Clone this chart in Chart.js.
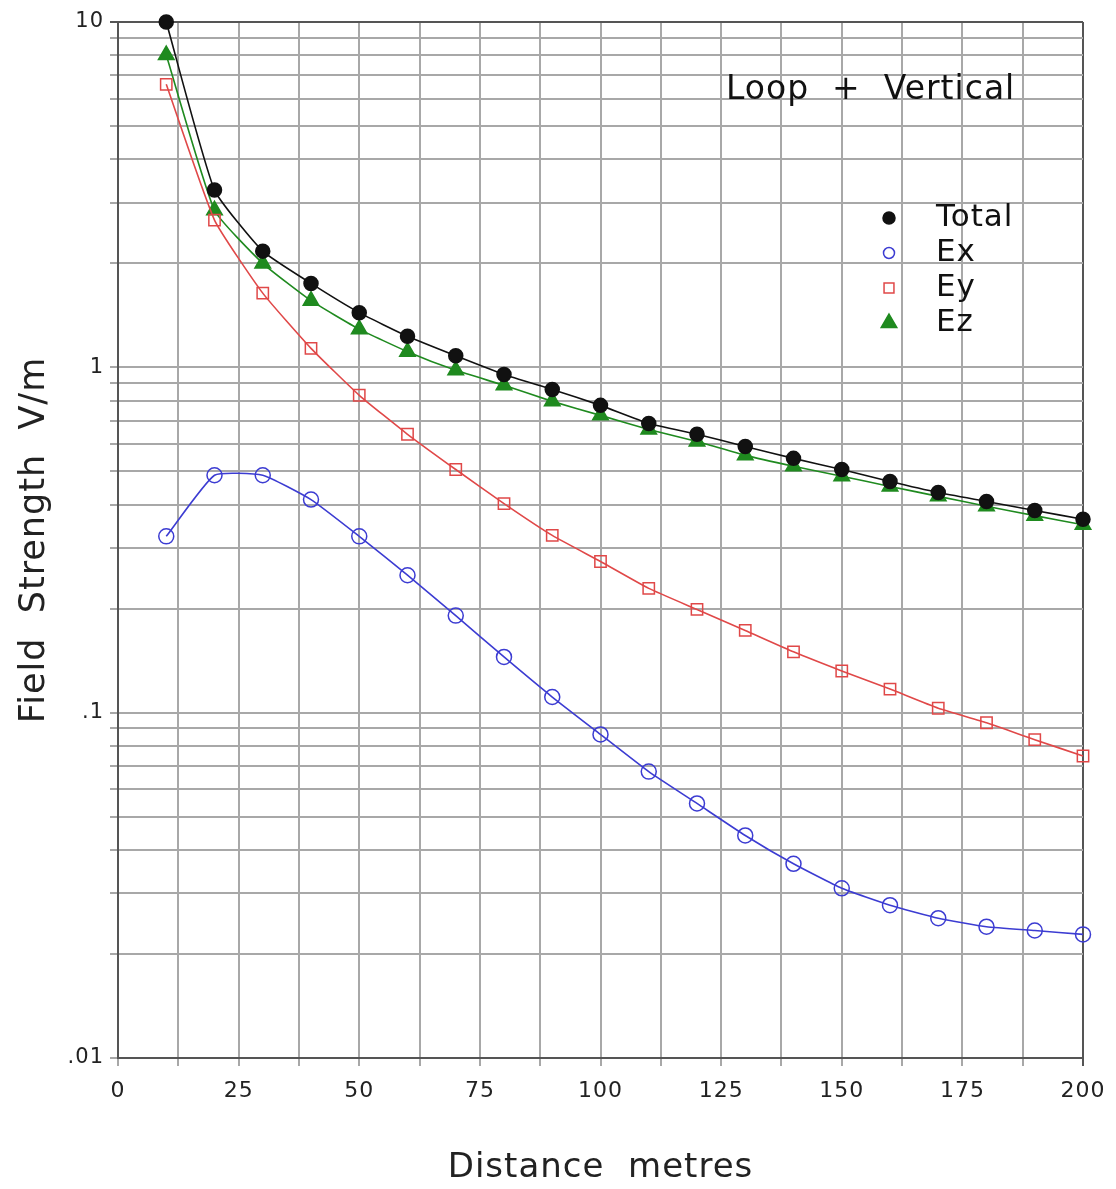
<!DOCTYPE html>
<html>
<head>
<meta charset="utf-8">
<script src="https://cdn.jsdelivr.net/npm/chart.js@4"></script>
<style>
  html, body { margin: 0; padding: 0; background: #fff; }
  #wrap { width: 1116px; height: 1189px; }
</style>
</head>
<body>
<div id="wrap"><canvas id="c"></canvas></div>
<script>
// Field strength vs distance (Loop + Vertical)

const distances = [10, 20, 30, 40, 50, 60, 70, 80, 90, 100, 110, 120, 130, 140, 150, 160, 170, 180, 190, 200];
const totalVals = [10, 3.26, 2.17, 1.75, 1.44, 1.23, 1.08, 0.954, 0.863, 0.776, 0.688, 0.64, 0.59, 0.545, 0.506, 0.467, 0.434, 0.409, 0.385, 0.363];
const exVals = [0.324, 0.487, 0.487, 0.414, 0.324, 0.25, 0.191, 0.145, 0.111, 0.0865, 0.0675, 0.0546, 0.0441, 0.0365, 0.031, 0.0277, 0.0254, 0.024, 0.0234, 0.0228];
const eyVals = [6.6, 2.67, 1.64, 1.135, 0.83, 0.64, 0.506, 0.403, 0.326, 0.274, 0.229, 0.199, 0.173, 0.15, 0.132, 0.117, 0.103, 0.0935, 0.0835, 0.0749];
const ezVals = [8.02, 2.85, 2.0, 1.56, 1.29, 1.11, 0.98, 0.887, 0.797, 0.726, 0.661, 0.61, 0.556, 0.517, 0.484, 0.452, 0.423, 0.396, 0.372, 0.35];

const yGridValues = [0.01, 0.02, 0.03, 0.04, 0.05, 0.06, 0.07, 0.08, 0.09,
                     0.1, 0.2, 0.3, 0.4, 0.5, 0.6, 0.7, 0.8, 0.9,
                     1, 2, 3, 4, 5, 6, 7, 8, 9, 10];
const yTickLabels = { 0.01: '.01', 0.1: '.1', 1: '1', 10: '10' };
const xLabelStep = 25;

const FONT = 'DejaVu Sans';
const pts = vals => distances.map((d, i) => ({ x: d, y: vals[i] }));

const series = [
    { label: 'Total', data: totalVals, color: '#111111', style: 'circle', fill: '#111111', r: 7, lr: 6 },
    { label: 'Ex', data: exVals, color: '#3c3cd2', style: 'circle', fill: 'rgba(0,0,0,0)', r: 7.5, lr: 5.5 },
    { label: 'Ey', data: eyVals, color: '#e04848', style: 'rect', fill: 'rgba(0,0,0,0)', r: 8, lr: 7 },
    { label: 'Ez', data: ezVals, color: '#1f8a1f', style: 'triangle', fill: '#1f8a1f', r: 9, lr: 9 }
];

const overlay = {
    id: 'overlay',
    beforeDraw(chart) {
        chart.ctx.letterSpacing = '1px';
    },
    afterDraw(chart) {
        const ctx = chart.ctx;
        ctx.save();
        ctx.letterSpacing = '1px';
        ctx.fillStyle = '#111';
        ctx.textBaseline = 'middle';
        ctx.textAlign = 'left';
        ctx.font = `33px "${FONT}"`;
        ctx.fillText('Loop  +  Vertical', 726, 90);

        series.forEach((s, i) => {
            const y = 218 + i * 35;
            ctx.fillStyle = s.fill;
            ctx.strokeStyle = s.color;
            ctx.lineWidth = 1.5;
            Chart.helpers.drawPoint(ctx, {
                pointStyle: s.style, radius: s.lr, borderWidth: 1.5, rotation: 0
            }, 889, y);
            ctx.fillStyle = '#111';
            ctx.font = `31px "${FONT}"`;
            ctx.fillText(s.label, 936, y);
        });
        ctx.restore();
    }
};

new Chart(document.getElementById('c'), {
    type: 'line',
    data: {
        datasets: series.map(s => ({
            label: s.label,
            data: pts(s.data),
            borderColor: s.color,
            backgroundColor: s.fill,
            pointStyle: s.style,
            pointRadius: s.r,
            pointBorderColor: s.color,
            pointBackgroundColor: s.fill,
            pointBorderWidth: 1.5,
            borderWidth: 1.6,
            tension: 0.15,
            clip: false
        }))
    },
    options: {
        responsive: true,
        maintainAspectRatio: false,
        animation: false,
        layout: { padding: { top: 22, right: 31, bottom: 0, left: 0 } },
        plugins: { legend: { display: false }, tooltip: { enabled: false } },
        scales: {
            x: {
                type: 'linear', min: 0, max: 200,
                afterFit: s => { s.height = 131; },
                border: { color: '#555', width: 2 },
                grid: {
                    color: c => (c.tick && c.tick.value === 200) ? '#555' : '#a8a8a8',
                    lineWidth: 2, tickLength: 8
                },
                ticks: {
                    stepSize: 12.5, autoSkip: false, maxRotation: 0, padding: 12,
                    color: '#222', font: { family: FONT, size: 22 },
                    callback: v => (v % xLabelStep === 0 ? String(v) : '')
                },
                title: {
                    display: true, text: 'Distance  metres', color: '#222',
                    font: { family: FONT, size: 34 }, padding: { top: 22, bottom: 0 }
                }
            },
            y: {
                type: 'logarithmic', min: 0.01, max: 10,
                afterFit: s => { s.width = 118; },
                afterBuildTicks: s => { s.ticks = yGridValues.map(v => ({ value: v })); },
                border: { color: '#555', width: 2 },
                grid: {
                    color: c => (c.tick && c.tick.value === 10) ? '#555' : '#a8a8a8',
                    lineWidth: 2, tickLength: 8
                },
                ticks: {
                    autoSkip: false, padding: 6, color: '#222',
                    font: { family: FONT, size: 21 },
                    callback: v => yTickLabels[v] || ''
                },
                title: {
                    display: true, text: 'Field  Strength  V/m', color: '#222',
                    font: { family: FONT, size: 35 }, padding: { top: 14, bottom: 0 }
                }
            }
        }
    },
    plugins: [overlay]
});
</script>
</body>
</html>
